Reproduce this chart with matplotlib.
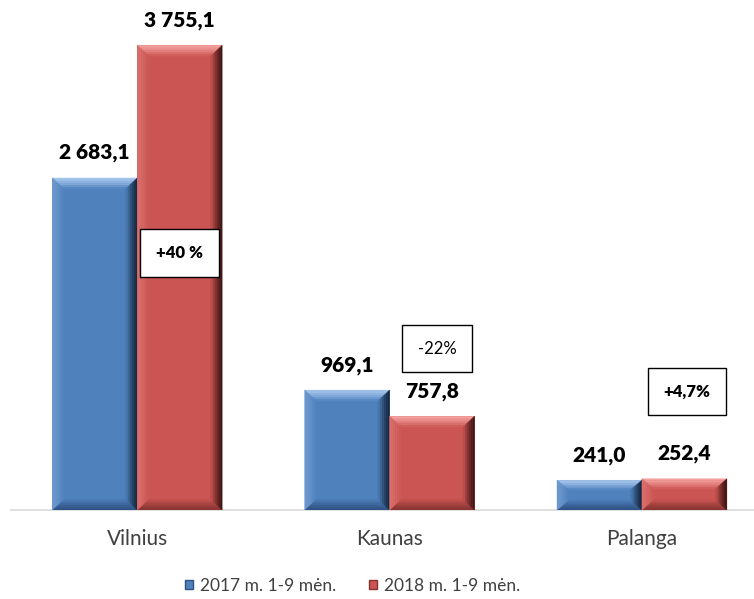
import numpy as np
import matplotlib
matplotlib.use("Agg")
import matplotlib.pyplot as plt
from matplotlib.patches import Polygon, Patch
from matplotlib.colors import to_rgb

plt.rcParams['font.family'] = ['Lato', 'DejaVu Sans']

cities = ['Vilnius', 'Kaunas', 'Palanga']
series_names = ['2017 m. 1-9 mėn.', '2018 m. 1-9 mėn.']
values_2017 = [2683.1, 969.1, 241.0]
values_2018 = [3755.1, 757.8, 252.4]
change_labels = ['+40 %', '-22%', '+4,7%']
change_bold = [True, False, True]
change_y = [2076, 1304, 957]      # box centres, in data units
change_dx = [0.0, 0.02, 0.01]     # box shift from the 2018 bar centre

# face, top, left, bottom, right (outer edge colours)
blue = dict(face='#4F81BD', top='#A9C8EE', left='#6F9AD0', bottom='#2E5182', right='#14263D')
red = dict(face='#CB5552', top='#F5A3A0', left='#D9706D', bottom='#873331', right='#3E1413')

fig = plt.figure(figsize=(7.54, 5.99), dpi=100)
ax = fig.add_axes([11 / 754, 89 / 599, 743 / 754, 495 / 599])

x = np.arange(len(cities))
w = 0.3366


def mix(c1, c2, t):
    a, b = np.array(to_rgb(c1)), np.array(to_rgb(c2))
    return tuple(a + (b - a) * t)


def bevel(ax, bar, pal, n=6):
    x0, y0 = bar.get_x(), bar.get_y()
    x1, y1 = x0 + bar.get_width(), y0 + bar.get_height()
    dx = 0.046
    dy = min(88, (y1 - y0) * 0.33)
    for i in range(n):
        a, b = i / n, (i + 1) / n
        t = (i + 0.5) / n
        ox0, ox1 = x0 + dx * a, x1 - dx * a
        oy0, oy1 = y0 + dy * a, y1 - dy * a
        ix0, ix1 = x0 + dx * b, x1 - dx * b
        iy0, iy1 = y0 + dy * b, y1 - dy * b
        faces = [
            ([(ox0, oy1), (ox1, oy1), (ix1, iy1), (ix0, iy1)], pal['top']),
            ([(ox0, oy0), (ox1, oy0), (ix1, iy0), (ix0, iy0)], pal['bottom']),
            ([(ox0, oy0), (ox0, oy1), (ix0, iy1), (ix0, iy0)], pal['left']),
            ([(ox1, oy0), (ox1, oy1), (ix1, iy1), (ix1, iy0)], pal['right']),
        ]
        for pts, col in faces:
            c = mix(col, pal['face'], t ** 1.4)
            ax.add_patch(Polygon(pts, closed=True, facecolor=c, edgecolor=c,
                                 linewidth=0.3, zorder=3))


bars1 = ax.bar(x - w / 2, values_2017, w, color=blue['face'], zorder=2)
bars2 = ax.bar(x + w / 2, values_2018, w, color=red['face'], zorder=2)
for b in bars1:
    bevel(ax, b, blue)
for b in bars2:
    bevel(ax, b, red)

for bars, vals in [(bars1, values_2017), (bars2, values_2018)]:
    for b, v in zip(bars, vals):
        s = f'{v:,.1f}'.replace(',', ' ').replace('.', ',')
        ax.annotate(s, (b.get_x() + b.get_width() / 2, b.get_height()),
                    xytext=(0, 19), textcoords='offset pixels',
                    ha='center', va='baseline', fontsize=15,
                    fontweight='heavy', color='black', zorder=5)

for i, lab in enumerate(change_labels):
    ax.text(x[i] + w / 2 + change_dx[i], change_y[i], lab, ha='center', va='center',
            fontsize=12, fontweight='heavy' if change_bold[i] else 'normal',
            color='black', zorder=6,
            bbox=dict(boxstyle='square,pad=0.95', facecolor='white',
                      edgecolor='black', linewidth=1))

ax.set_xlim(-0.5, 2.444)
ax.set_ylim(0, 4000)
ax.set_xticks(x)
ax.set_xticklabels(cities, fontsize=15, color='#404040')
ax.tick_params(axis='x', length=0, pad=14)
ax.set_yticks([])
for s in ['top', 'right', 'left']:
    ax.spines[s].set_visible(False)
ax.spines['bottom'].set_color('#D9D9D9')
ax.spines['bottom'].set_linewidth(1.2)
ax.spines['bottom'].set_zorder(1)

handles = [Patch(facecolor=blue['face'], edgecolor='#2E5182'),
           Patch(facecolor=red['face'], edgecolor='#873331')]
fig.legend(handles, series_names, loc='center', bbox_to_anchor=(0.468, 0.022),
           ncol=2, frameon=False, fontsize=12.5, handlelength=0.45,
           handleheight=0.45, handletextpad=0.4, columnspacing=1.9,
           labelcolor='#404040')

fig.savefig('out.png', dpi=100)
